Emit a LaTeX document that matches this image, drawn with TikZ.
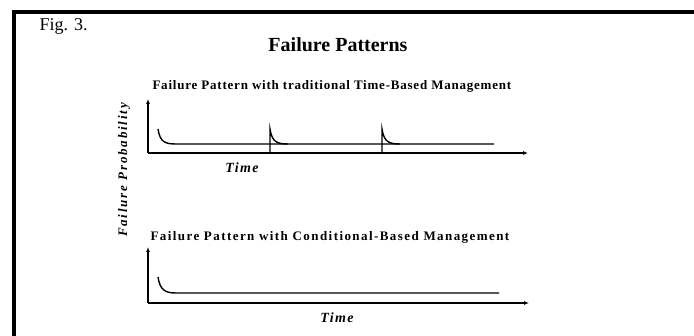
\documentclass[tikz,border=0pt]{standalone}
\usepackage{fontspec}
\setmainfont{Liberation Serif}
\usetikzlibrary{arrows.meta}
\tikzset{
  axis/.style={line width=1.8pt, -{Latex[length=5pt,width=4pt]}},
  curve/.style={line width=1.4pt},
  subtitle/.style={anchor=west},
  axislabel/.style={font=\fontsize{14}{16}\selectfont\bfseries\itshape\addfontfeatures{LetterSpace=10}}
}
\begin{document}
\begin{tikzpicture}[x=1pt, y=-1pt]
  \useasboundingbox (0,0) rectangle (694,336);
  %% frame
  \draw[line width=4.5pt] (14,336) -- (14,12) -- (694,12);

  %% headings
  \node[anchor=west, font=\fontsize{18}{20}\selectfont] (fig) at (36,26) {Fig. 3.};
  \node[font=\fontsize{20}{24}\selectfont\bfseries] (title) at (338,45) {Failure Patterns};

  %% upper chart
  \node[subtitle, font=\fontsize{13}{15}\selectfont\bfseries\addfontfeatures{LetterSpace=6}] (tbmtitle) at (149,86)
    {Failure Pattern with traditional Time-Based Management};
  \draw[axis] (148,153) -- (148,99);
  \draw[axis] (148,153) -- (528,153);
  \draw[curve] (158,129) .. controls (160,142) and (165,144) .. (176,144) -- (494,144);
  \draw[curve] (270,153) -- (270,129) .. controls (272,142) and (277,144) .. (288,144);
  \draw[curve] (382,153) -- (382,129) .. controls (384,142) and (389,144) .. (400,144);
  \node[axislabel] (tbmtime) at (242,168) {Time};

  %% y label
  \node[rotate=90, font=\fontsize{13}{15}\selectfont\bfseries\itshape\addfontfeatures{LetterSpace=14}] (prob) at (124,170)
    {Failure Probability};

  %% lower chart
  \node[subtitle, font=\fontsize{13}{15}\selectfont\bfseries\addfontfeatures{LetterSpace=11}] (cbmtitle) at (147,237)
    {Failure Pattern with Conditional-Based Management};
  \draw[axis] (148,303) -- (148,247);
  \draw[axis] (148,303) -- (529,303);
  \draw[curve] (158,277) .. controls (160,290) and (165,293) .. (176,293) -- (499,293);
  \node[axislabel] (cbmtime) at (337,318) {Time};
\end{tikzpicture}
\end{document}
